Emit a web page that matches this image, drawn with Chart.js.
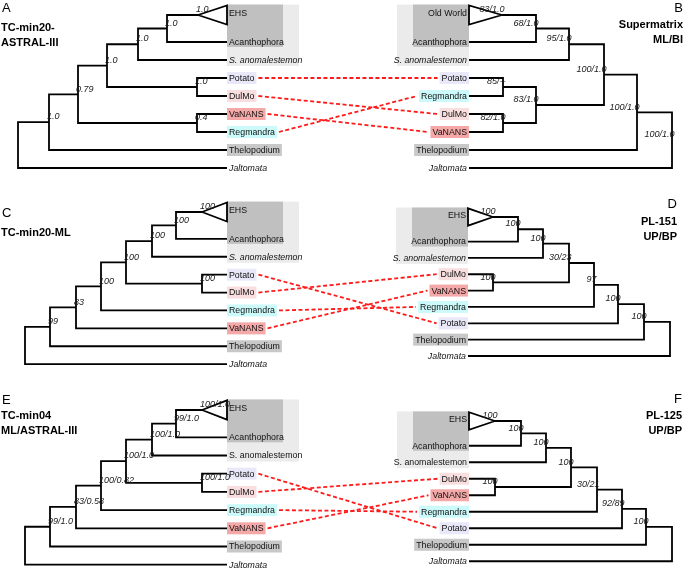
<!DOCTYPE html>
<html>
<head>
<meta charset="utf-8">
<script src="https://cdn.jsdelivr.net/npm/chart.js@4.4.0/dist/chart.umd.min.js"></script>
<style>
  html, body { margin: 0; padding: 0; background: #fff; }
  #chart-container { width: 700px; height: 568px; }
</style>
</head>
<body>
<div id="chart-container"><canvas id="tanglegram" width="700" height="568"></canvas></div>
<script>
// Tree topologies (newick), support values are the internal node labels
const newickA = '((((((EHS,Acanthophora)1.0,S. anomalestemon)1.0,(Potato,DulMo)1.0)1.0,(VaNANS,Regmandra)0.4)0.79,Thelopodium)1.0,Jaltomata);';
const newickB = '((((((Old World,Acanthophora)68/1.0,S. anomalestemon)95/1.0,((Potato,Regmandra)85/--,(DulMo,VaNANS)82/1.0)83/1.0)100/1.0,Thelopodium)100/1.0,Jaltomata)100/1.0;';
const newickC = '(((((((EHS,Acanthophora)100,S. anomalestemon)100,(Potato,DulMo)100)100,Regmandra)100,VaNANS)83,Thelopodium)99,Jaltomata);';
const newickD = '(((((((EHS,Acanthophora)100,S. anomalestemon)100,(DulMo,VaNANS)100)30/23,Regmandra)97,Potato)100,Thelopodium)100,Jaltomata);';
const newickE = '(((((((EHS,Acanthophora)99/1.0,S. anomalestemon)100/1.0,(Potato,DulMo)100/1.0)100/1.0,Regmandra)100/0.82,VaNANS)83/0.58,Thelopodium)99/1.0,Jaltomata);';
const newickF = '(((((((EHS,Acanthophora)100,S. anomalestemon)100,(DulMo,VaNANS)100)100,Regmandra)30/21,Potato)92/89,Thelopodium)100,Jaltomata);';

// node depth (x) of internal nodes, postorder
const nodeXA = [167, 138, 197, 107, 197, 78, 49, 18];
const nodeXB = [536, 569, 503, 503, 536, 604, 637, 672];
const nodeXC = [176, 152, 202, 126, 101, 76, 50, 25];
const nodeXD = [518, 543, 493, 569, 594, 618, 644, 670];
const nodeXE = [176, 152, 202, 126, 101, 76, 50, 25];
const nodeXF = [521, 546, 495, 571, 597, 622, 646, 672];

// support on the stem of the collapsed clade (triangle)
const cladeSupport = ['1.0', '83/1.0', '100', '100', '100/1.0', '100'];

// leaf slots (collapsed clade takes extra room)
const rowSlots = [0, 1.5, 2.5, 3.5, 4.5, 5.5, 6.5, 7.5, 8.5];

// taxa joined between paired trees
const linkedTaxa = ['Potato', 'DulMo', 'VaNANS', 'Regmandra'];

const highlight = {
    'Potato': '#e8e8f8',
    'DulMo': '#f8dede',
    'VaNANS': '#f4a8a8',
    'Regmandra': '#ccfafa',
    'Thelopodium': '#c8c8c8'
};

const FONT = '"Liberation Sans", Arial, sans-serif';
const leafFontSize = 8.8;
const supFontSize = 9;

const panels = [
    { letter: 'A', newick: newickA, nodeX: nodeXA, side: 'left', leafX: 227, apexX: 198, top: 15, step: 18,
      italic: ['S. anomalestemon', 'Jaltomata'], letterY: 8, title: ['TC-min20-', 'ASTRAL-III'], titleY: 28 },
    { letter: 'B', newick: newickB, nodeX: nodeXB, side: 'right', leafX: 469, apexX: 502, top: 15, step: 18,
      italic: ['S. anomalestemon', 'Jaltomata'], letterY: 8, title: ['Supermatrix', 'ML/BI'], titleY: 25, titleX: 683 },
    { letter: 'C', newick: newickC, nodeX: nodeXC, side: 'left', leafX: 227, apexX: 202, top: 212, step: 17.9,
      italic: ['S. anomalestemon', 'Jaltomata'], letterY: 213, title: ['TC-min20-ML'], titleY: 233 },
    { letter: 'D', newick: newickD, nodeX: nodeXD, side: 'right', leafX: 468, apexX: 493, top: 217, step: 16.35,
      italic: ['S. anomalestemon', 'Jaltomata'], letterY: 204, title: ['PL-151', 'UP/BP'], titleY: 222, titleX: 677 },
    { letter: 'E', newick: newickE, nodeX: nodeXE, side: 'left', leafX: 227, apexX: 202, top: 410, step: 18.2,
      italic: ['Jaltomata'], letterY: 400, title: ['TC-min04', 'ML/ASTRAL-III'], titleY: 416 },
    { letter: 'F', newick: newickF, nodeX: nodeXF, side: 'right', leafX: 469, apexX: 495, top: 421, step: 16.5,
      italic: ['Jaltomata'], letterY: 399, title: ['PL-125', 'UP/BP'], titleY: 416, titleX: 682 }
];
const pairs = [[0, 1], [2, 3], [4, 5]];

function parseNewick(str) {
    let i = 0;
    function node() {
        const n = { children: [], label: '' };
        if (str[i] === '(') {
            i++;
            n.children.push(node());
            while (str[i] === ',') { i++; n.children.push(node()); }
            i++;
        }
        let s = '';
        while (i < str.length && ',();'.indexOf(str[i]) < 0) s += str[i++];
        n.label = s;
        return n;
    }
    return node();
}

const measureCtx = document.createElement('canvas').getContext('2d');
function leafWidth(p, name) {
    measureCtx.font = (p.italic.indexOf(name) >= 0 ? 'italic ' : '') + leafFontSize + 'px ' + FONT;
    return measureCtx.measureText(name).width;
}

// lay out each tree
panels.forEach(function (p, pi) {
    const root = parseNewick(p.newick);
    const leaves = [], internals = [];
    let k = 0, li = 0;
    (function walk(n) {
        if (!n.children.length) {
            n.y = p.top + rowSlots[li] * p.step;
            n.x = li === 0 ? p.apexX : p.leafX;
            li++;
            leaves.push(n);
            return;
        }
        n.children.forEach(walk);
        n.x = p.nodeX[k++];
        n.y = (n.children[0].y + n.children[n.children.length - 1].y) / 2;
        internals.push(n);
    })(root);
    p.root = root;
    p.leaves = leaves;
    p.internals = internals;
    p.cladeSupport = cladeSupport[pi];
    // label box extents
    leaves.forEach(function (l) {
        const w = leafWidth(p, l.label);
        if (p.side === 'left') { l.boxL = p.leafX; l.boxR = p.leafX + w + 4; }
        else { l.boxR = p.leafX; l.boxL = p.leafX - w - 4; }
    });
});

const datasets = [];
function seg(points, extra) {
    datasets.push(Object.assign({
        data: points,
        showLine: true,
        borderColor: '#000',
        borderWidth: 1.8,
        pointRadius: 0,
        fill: false,
        tension: 0,
        borderJoinStyle: 'miter',
        borderCapStyle: 'butt',
        clip: false
    }, extra || {}));
}

panels.forEach(function (p) {
    p.internals.forEach(function (n) {
        const c0 = n.children[0], c1 = n.children[n.children.length - 1];
        seg([{ x: c0.x, y: c0.y }, { x: n.x, y: c0.y }, { x: n.x, y: c1.y }, { x: c1.x, y: c1.y }]);
    });
    const clade = p.leaves[0];
    const h = 0.53 * p.step;
    seg([{ x: p.apexX, y: clade.y }, { x: p.leafX, y: clade.y - h }, { x: p.leafX, y: clade.y + h },
         { x: p.apexX, y: clade.y }]);
});

pairs.forEach(function (pr) {
    const L = panels[pr[0]], R = panels[pr[1]];
    linkedTaxa.forEach(function (name) {
        const a = L.leaves.find(function (l) { return l.label === name; });
        const b = R.leaves.find(function (l) { return l.label === name; });
        if (!a || !b) return;
        seg([{ x: a.boxR + 2, y: a.y }, { x: b.boxL - 2, y: b.y }],
            { borderColor: '#ff1a1a', borderWidth: 1.8, borderDash: [4, 2.5] });
    });
});

const boxPlugin = {
    id: 'boxes',
    beforeDatasetsDraw: function (chart) {
        const ctx = chart.ctx, sx = chart.scales.x, sy = chart.scales.y;
        ctx.save();
        panels.forEach(function (p) {
            const clade = p.leaves[0], ac = p.leaves[1], sa = p.leaves[2];
            const top = clade.y - 0.58 * p.step;
            const dir = p.side === 'left' ? 1 : -1;
            const lightX = p.leafX + dir * 72, darkX = p.leafX + dir * 56;
            ctx.fillStyle = '#ebebeb';
            ctx.fillRect(sx.getPixelForValue(Math.min(p.leafX, lightX)), sy.getPixelForValue(top),
                72, sy.getPixelForValue(sa.y + 6) - sy.getPixelForValue(top));
            ctx.fillStyle = '#c0c0c0';
            ctx.fillRect(sx.getPixelForValue(Math.min(p.leafX, darkX)), sy.getPixelForValue(top),
                56, sy.getPixelForValue(ac.y + 5) - sy.getPixelForValue(top));
            p.leaves.forEach(function (l) {
                if (!highlight[l.label]) return;
                ctx.fillStyle = highlight[l.label];
                const x0 = sx.getPixelForValue(l.boxL), x1 = sx.getPixelForValue(l.boxR);
                ctx.fillRect(x0, sy.getPixelForValue(l.y) - 6, x1 - x0, 12);
            });
        });
        ctx.restore();
    },
    afterDatasetsDraw: function (chart) {
        const ctx = chart.ctx, sx = chart.scales.x, sy = chart.scales.y;
        ctx.save();
        panels.forEach(function (p) {
            const left = p.side === 'left';
            // leaf names
            ctx.fillStyle = '#111';
            ctx.textBaseline = 'middle';
            ctx.textAlign = left ? 'left' : 'right';
            p.leaves.forEach(function (l) {
                ctx.font = (p.italic.indexOf(l.label) >= 0 ? 'italic ' : '') + leafFontSize + 'px ' + FONT;
                const ty = l === p.leaves[0] ? l.y - 1 : l.y + 0.5;
                ctx.fillText(l.label, sx.getPixelForValue(p.leafX + (left ? 2 : -2)), sy.getPixelForValue(ty));
            });
            // supports
            ctx.font = 'italic ' + supFontSize + 'px ' + FONT;
            ctx.textBaseline = 'bottom';
            ctx.fillStyle = '#1a1a1a';
            const sup = function (txt, x, y) {
                if (!txt) return;
                ctx.fillText(txt, sx.getPixelForValue(x + (left ? -2 : 2.5)), sy.getPixelForValue(y - 0.8));
            };
            p.internals.forEach(function (n) { sup(n.label, n.x, n.y); });
            sup(p.cladeSupport, p.apexX, p.leaves[0].y);
            // panel letter and title
            ctx.fillStyle = '#000';
            ctx.textBaseline = 'middle';
            ctx.font = '13px ' + FONT;
            const tx = left ? 1 : p.titleX;
            ctx.fillText(p.letter, left ? 2 : p.titleX, p.letterY);
            ctx.font = 'bold 11px ' + FONT;
            p.title.forEach(function (t, i) { ctx.fillText(t, tx, p.titleY + i * 15); });
        });
        ctx.restore();
    }
};

const chart = new Chart(document.getElementById('tanglegram').getContext('2d'), {
    type: 'scatter',
    data: { datasets: datasets },
    options: {
        responsive: false,
        animation: false,
        events: [],
        layout: { padding: 0 },
        plugins: { legend: { display: false }, tooltip: { enabled: false } },
        scales: {
            x: { type: 'linear', min: 0, max: 700, display: false },
            y: { type: 'linear', min: 0, max: 568, reverse: true, display: false }
        }
    },
    plugins: [boxPlugin]
});
</script>
</body>
</html>
